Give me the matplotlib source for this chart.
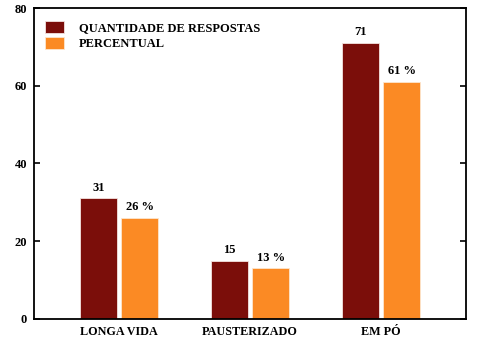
import matplotlib
matplotlib.use("Agg")
import matplotlib.pyplot as plt
import numpy as np

categories = ["LONGA VIDA", "PAUSTERIZADO", "EM PÓ"]
respostas = [31, 15, 71]
percentual = [26, 13, 61]
series_names = ["QUANTIDADE DE RESPOSTAS", "PERCENTUAL"]
yticks = [0, 20, 40, 60, 80]

plt.rcParams['font.family'] = ['Liberation Serif', 'DejaVu Serif']
plt.rcParams['font.weight'] = 'bold'

dark_red = "#7B0E0A"
orange = "#FB8A24"
fs = 9

fig = plt.figure(figsize=(4.79, 3.42), dpi=100)
ax = fig.add_axes([0.071, 0.0673, 0.902, 0.9093])

x = np.arange(len(categories))
w = 0.28
off = 0.158
b1 = ax.bar(x - off, respostas, w, color=dark_red, edgecolor="#f3e3e0", linewidth=0.6,
            label=series_names[0])
b2 = ax.bar(x + off, percentual, w, color=orange, edgecolor="#fde6cf", linewidth=0.6,
            label=series_names[1])

for rect, v in zip(b1, respostas):
    ax.annotate(f"{v}", (rect.get_x() + rect.get_width() / 2, v), xytext=(0, 3.5),
                textcoords="offset points", ha="center", va="bottom",
                fontsize=fs, fontweight="bold")
for rect, v in zip(b2, percentual):
    ax.annotate(f"{v} %", (rect.get_x() + rect.get_width() / 2, v), xytext=(0, 3.5),
                textcoords="offset points", ha="center", va="bottom",
                fontsize=fs, fontweight="bold")

ax.set_xlim(-0.65, 2.65)
ax.set_ylim(0, 80)
ax.set_yticks(yticks)
ax.set_yticklabels([str(t) for t in yticks], fontsize=fs, fontweight="bold")
ax.set_xticks(x)
ax.set_xticklabels(categories, fontsize=8.7, fontweight="bold")
ax.tick_params(axis="x", length=0, pad=5)
ax.tick_params(axis="y", direction="in", length=4, width=1.2, right=True, pad=5)
for s in ax.spines.values():
    s.set_linewidth(1.3)

leg = ax.legend(loc="upper left", frameon=False, fontsize=fs, handlelength=1.5,
                handleheight=1.0, handletextpad=1.2, labelspacing=0.25,
                borderaxespad=0.5, borderpad=0.4, bbox_to_anchor=(0.0, 0.993))
for t in leg.get_texts():
    t.set_fontweight("bold")

fig.savefig("out.png", dpi=100)
